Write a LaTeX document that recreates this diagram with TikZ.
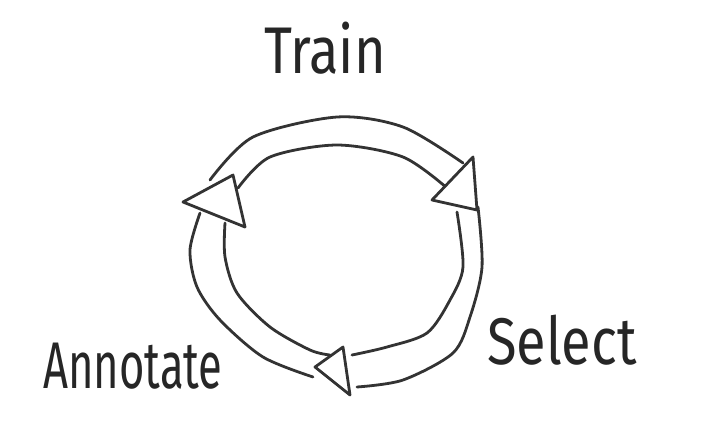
\documentclass[tikz,border=0pt]{standalone}
\usepackage{fontspec}
\usepackage{graphicx}
\setmainfont{Fira Sans}
\usetikzlibrary{calc}

\begin{document}
\begin{tikzpicture}[x=1pt,y=-1pt,
	pencil/.style={line width=2.8pt,black!80,line cap=round,line join=round},
	stage/.style={black!85,font=\fontsize{66}{66}\selectfont,anchor=base}]
	\useasboundingbox (0,0) rectangle (720,424);
	% bands of the cycle
	\draw[pencil] plot[smooth] coordinates {(210,180) (253,137) (337,117) (403,127) (463,163)};
	\draw[pencil] plot[smooth] coordinates {(238,188) (270,157) (337,145) (403,157) (447,188)};
	\draw[pencil] plot[smooth] coordinates {(478,207) (482,267) (470,317) (453,353) (403,380) (357,387)};
	\draw[pencil] plot[smooth] coordinates {(457,212) (463,267) (450,300) (427,333) (387,347) (352,355)};
	\draw[pencil] plot[smooth] coordinates {(200,213) (190,250) (197,287) (220,320) (263,357) (313,377)};
	\draw[pencil] plot[smooth] coordinates {(225,223) (225,257) (237,293) (270,327) (310,350) (330,355)};
	% arrow heads
	\draw[pencil,fill=white] (473,157) -- (477,210) -- (432,200) -- cycle;
	\draw[pencil,fill=white] (183,202) -- (233,175) -- (245,227) -- cycle;
	\draw[pencil,fill=white] (315,367) -- (343,347) -- (350,395) -- cycle;
	% labels
	\node[stage] (train) at (325,73) {\scalebox{0.82}[1]{Train}};
	\node[stage] (select) at (562,364) {\scalebox{0.82}[1]{Select}};
	\node[stage] (annotate) at (133,388) {\scalebox{0.66}[1]{Annotate}};
\end{tikzpicture}
\end{document}
